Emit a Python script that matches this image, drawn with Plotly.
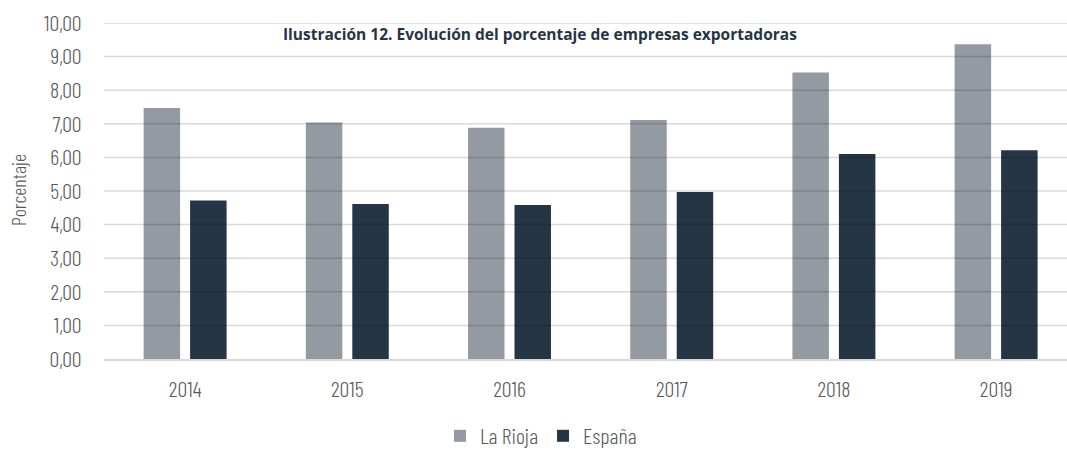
import plotly.graph_objects as go

years = ["2014", "2015", "2016", "2017", "2018", "2019"]
la_rioja = [7.47, 7.04, 6.88, 7.11, 8.53, 9.37]
espana = [4.72, 4.61, 4.58, 4.97, 6.10, 6.21]
y_ticks = [0, 1, 2, 3, 4, 5, 6, 7, 8, 9, 10]

NARROW = "Barlow Condensed, sans-serif"
GRID = "rgba(0,0,0,0.15)"
TXT = "#595959"

fig = go.Figure()
fig.add_trace(go.Bar(name="La Rioja", x=years, y=la_rioja, marker=dict(color="#939aa2", line=dict(width=0))))
fig.add_trace(go.Bar(name="España", x=years, y=espana, marker=dict(color="#263545", line=dict(width=0))))

# gridlines drawn above the bars (as in the reference)
for t in y_ticks[1:]:
    fig.add_shape(type="line", xref="paper", yref="y", x0=0, x1=1, y0=t, y1=t,
                  line=dict(color=GRID, width=1.5), layer="above")

fig.add_annotation(text="Porcentaje", xref="paper", yref="paper",
                   x=(18 - 104) / 963, y=(359 - 190) / 336, textangle=-90, showarrow=False,
                   xanchor="center", yanchor="middle",
                   font=dict(family=NARROW, size=20, weight=300, color=TXT))

fig.update_layout(
    width=1067, height=450,
    margin=dict(l=104, r=0, t=23, b=91, autoexpand=False),
    paper_bgcolor="white", plot_bgcolor="white",
    separators=",.",
    barmode="group", bargap=0.427, bargroupgap=0.215,
    font=dict(family=NARROW, color=TXT, size=22, weight=300),
    title=dict(text="<b>Ilustración 12. Evolución del porcentaje de empresas exportadoras</b>",
               font=dict(family="Open Sans, sans-serif", size=15.5, color="#263545"),
               xref="container", yref="container", x=0.506, y=1 - 35 / 450,
               xanchor="center", yanchor="middle"),
    legend=dict(orientation="h", xref="container", yref="container",
                x=0.507, y=1 - 436 / 450, xanchor="center", yanchor="middle",
                font=dict(family=NARROW, size=22, weight=300, color=TXT),
                itemwidth=30, traceorder="normal"),
    xaxis=dict(range=[-0.5, 5.437], showgrid=False, showline=True,
               linecolor="#d9d9d9", linewidth=1.5, automargin=False,
               ticks="outside", ticklen=10, tickcolor="rgba(0,0,0,0)",
               tickfont=dict(size=22, color=TXT)),
    yaxis=dict(range=[0, 10], tickvals=y_ticks, tickformat=".2f",
               showgrid=False, zeroline=False, automargin=False,
               ticks="outside", ticklen=17, tickcolor="rgba(0,0,0,0)",
               tickfont=dict(size=22, color=TXT)),
)

fig.write_html("out.html", config={"displayModeBar": False},
               post_script="document.body.style.margin='0px';document.body.style.overflow='hidden';")
